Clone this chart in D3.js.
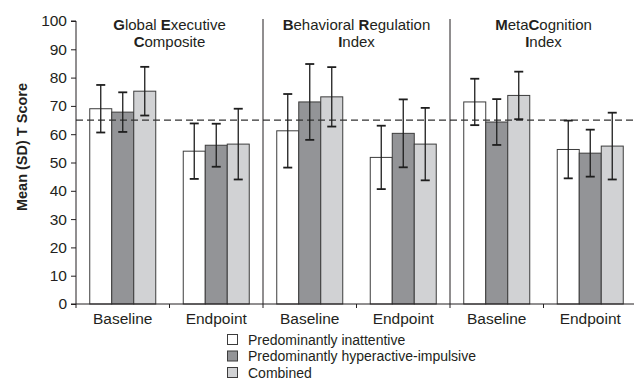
<!DOCTYPE html>
<html>
<head>
<meta charset="utf-8">
<script src="https://cdn.jsdelivr.net/npm/d3@7"></script>
<style>
  html, body { margin: 0; padding: 0; background: #fff; }
  svg { display: block; font-family: "Liberation Sans", Arial, Helvetica, sans-serif; }
</style>
</head>
<body>
<svg id="chart" width="634" height="381"></svg>
<script>
// ---- data ----
const indices = ["GEC", "BRI", "MCI"];
const indexTitles = [
  ["*G*lobal *E*xecutive", "*C*omposite"],
  ["*B*ehavioral *R*egulation", "*I*ndex"],
  ["*M*eta*C*ognition", "*I*ndex"]
];
const timepoints = ["Baseline", "Endpoint"];
const series = ["Predominantly inattentive", "Predominantly hyperactive-impulsive", "Combined"];
const seriesColors = ["#ffffff", "#939497", "#d1d2d4"];
// order: GEC Baseline, GEC Endpoint, BRI Baseline, BRI Endpoint, MCI Baseline, MCI Endpoint
const meanInattentive = [69.0, 54.0, 61.2, 51.8, 71.4, 54.6];
const meanHyperactive = [67.8, 56.1, 71.4, 60.3, 64.3, 53.3];
const meanCombined    = [75.2, 56.5, 73.2, 56.5, 73.7, 55.8];
const sdInattentive   = [8.4, 9.8, 13.0, 11.2, 8.2, 10.2];
const sdHyperactive   = [7.0, 7.6, 13.4, 12.0, 8.1, 8.3];
const sdCombined      = [8.6, 12.5, 10.5, 12.8, 8.4, 11.8];
const yTicks = [0, 10, 20, 30, 40, 50, 60, 70, 80, 90, 100];
const referenceLine = 65;
const yTitle = "Mean (SD) T Score";

const means = [meanInattentive, meanHyperactive, meanCombined];
const sds = [sdInattentive, sdHyperactive, sdCombined];

// ---- layout ----
const svg = d3.select("#chart");
const mLeft = 76, mRight = 637, mTop = 21, mBottom = 304;
const ink = "#231f20";

const groups = [];
indices.forEach(ix => timepoints.forEach(tp => groups.push(ix + "|" + tp)));

const x0 = d3.scaleBand().domain(groups).range([mLeft, mRight]).paddingInner(0).paddingOuter(0);
const xPanel = d3.scaleBand().domain(indices).range([mLeft, mRight]);
const x1 = d3.scaleBand().domain(series).range([0, x0.bandwidth()]).paddingInner(0).paddingOuter(0.625);
const y = d3.scaleLinear().domain([0, 100]).range([mBottom, mTop]);

// records
const records = [];
groups.forEach((g, gi) => {
  series.forEach((s, si) => {
    records.push({ g, s, si, mean: means[si][gi], sd: sds[si][gi] });
  });
});

// bars
svg.append("g").selectAll("rect").data(records).join("rect")
  .attr("x", d => x0(d.g) + x1(d.s))
  .attr("y", d => y(d.mean))
  .attr("width", x1.bandwidth())
  .attr("height", d => y(0) - y(d.mean))
  .attr("fill", d => seriesColors[d.si])
  .attr("stroke", "#3c3c3c")
  .attr("stroke-width", 1);

// reference dashed line
svg.append("line")
  .attr("x1", mLeft).attr("x2", 634)
  .attr("y1", y(referenceLine)).attr("y2", y(referenceLine))
  .attr("stroke", "#333").attr("stroke-width", 1.3)
  .attr("stroke-dasharray", "7,4");

// error bars
const eb = svg.append("g").attr("stroke", "#1e1e1e").attr("stroke-width", 1.3);
records.forEach(d => {
  const cx = x0(d.g) + x1(d.s) + x1.bandwidth() / 2;
  const yt = y(d.mean + d.sd), yb = y(d.mean - d.sd);
  eb.append("line").attr("x1", cx).attr("x2", cx).attr("y1", yt).attr("y2", yb);
  eb.append("line").attr("x1", cx - 4.5).attr("x2", cx + 4.5).attr("y1", yt).attr("y2", yt).attr("stroke-width", 1.8);
  eb.append("line").attr("x1", cx - 4.5).attr("x2", cx + 4.5).attr("y1", yb).attr("y2", yb).attr("stroke-width", 1.8);
});

// panel separators
indices.slice(1).forEach(ix => {
  svg.append("line")
    .attr("x1", xPanel(ix)).attr("x2", xPanel(ix))
    .attr("y1", 19).attr("y2", mBottom)
    .attr("stroke", ink).attr("stroke-width", 1);
});

// y axis
const yAxis = svg.append("g").attr("transform", `translate(${mLeft},0)`)
  .call(d3.axisLeft(y).tickValues(yTicks).tickSize(5).tickPadding(4));
yAxis.selectAll("text").attr("font-size", 15.5).attr("fill", ink).attr("font-family", "Liberation Sans, Arial, sans-serif");
yAxis.selectAll("line, path").attr("stroke", ink);
yAxis.select(".domain").attr("d", `M-5,${y(0)}H0V${y(100)}H-5`);

// x axis
const xAxis = svg.append("g").attr("transform", `translate(0,${mBottom})`);
xAxis.append("line").attr("x1", mLeft).attr("x2", 634).attr("y1", 0).attr("y2", 0).attr("stroke", ink);
groups.forEach(g => {
  xAxis.append("line").attr("x1", x0(g)).attr("x2", x0(g)).attr("y1", 0).attr("y2", 4).attr("stroke", ink);
  xAxis.append("text")
    .attr("x", x0(g) + x0.bandwidth() / 2).attr("y", 19.5)
    .attr("text-anchor", "middle").attr("font-size", 15.5).attr("fill", ink)
    .text(g.split("|")[1]);
});

// panel titles with bold initials
indices.forEach((ix, i) => {
  const cx = xPanel(ix) + xPanel.bandwidth() / 2;
  indexTitles[i].forEach((line, li) => {
    const t = svg.append("text")
      .attr("x", cx).attr("y", 30 + li * 16.5)
      .attr("text-anchor", "middle").attr("font-size", 15).attr("fill", ink);
    line.split(/(\*[^*]+\*)/).filter(p => p.length).forEach(part => {
      const bold = part.startsWith("*");
      t.append("tspan").attr("font-weight", bold ? "bold" : "normal")
        .text(bold ? part.slice(1, -1) : part);
    });
  });
});

// y title
svg.append("text")
  .attr("transform", "translate(27,147) rotate(-90)")
  .attr("text-anchor", "middle").attr("font-size", 14.5).attr("font-weight", "bold").attr("fill", ink)
  .text(yTitle);

// legend
const lg = svg.append("g").attr("transform", "translate(227,334)");
series.forEach((s, i) => {
  const row = lg.append("g").attr("transform", `translate(0,${i * 16.5})`);
  row.append("rect").attr("x", 0.5).attr("y", 0.5).attr("width", 10).attr("height", 10)
    .attr("fill", seriesColors[i]).attr("stroke", "#3c3c3c").attr("stroke-width", 1);
  row.append("text").attr("x", 21).attr("y", 10.5).attr("font-size", 14).attr("fill", ink).text(s);
});
</script>
</body>
</html>
